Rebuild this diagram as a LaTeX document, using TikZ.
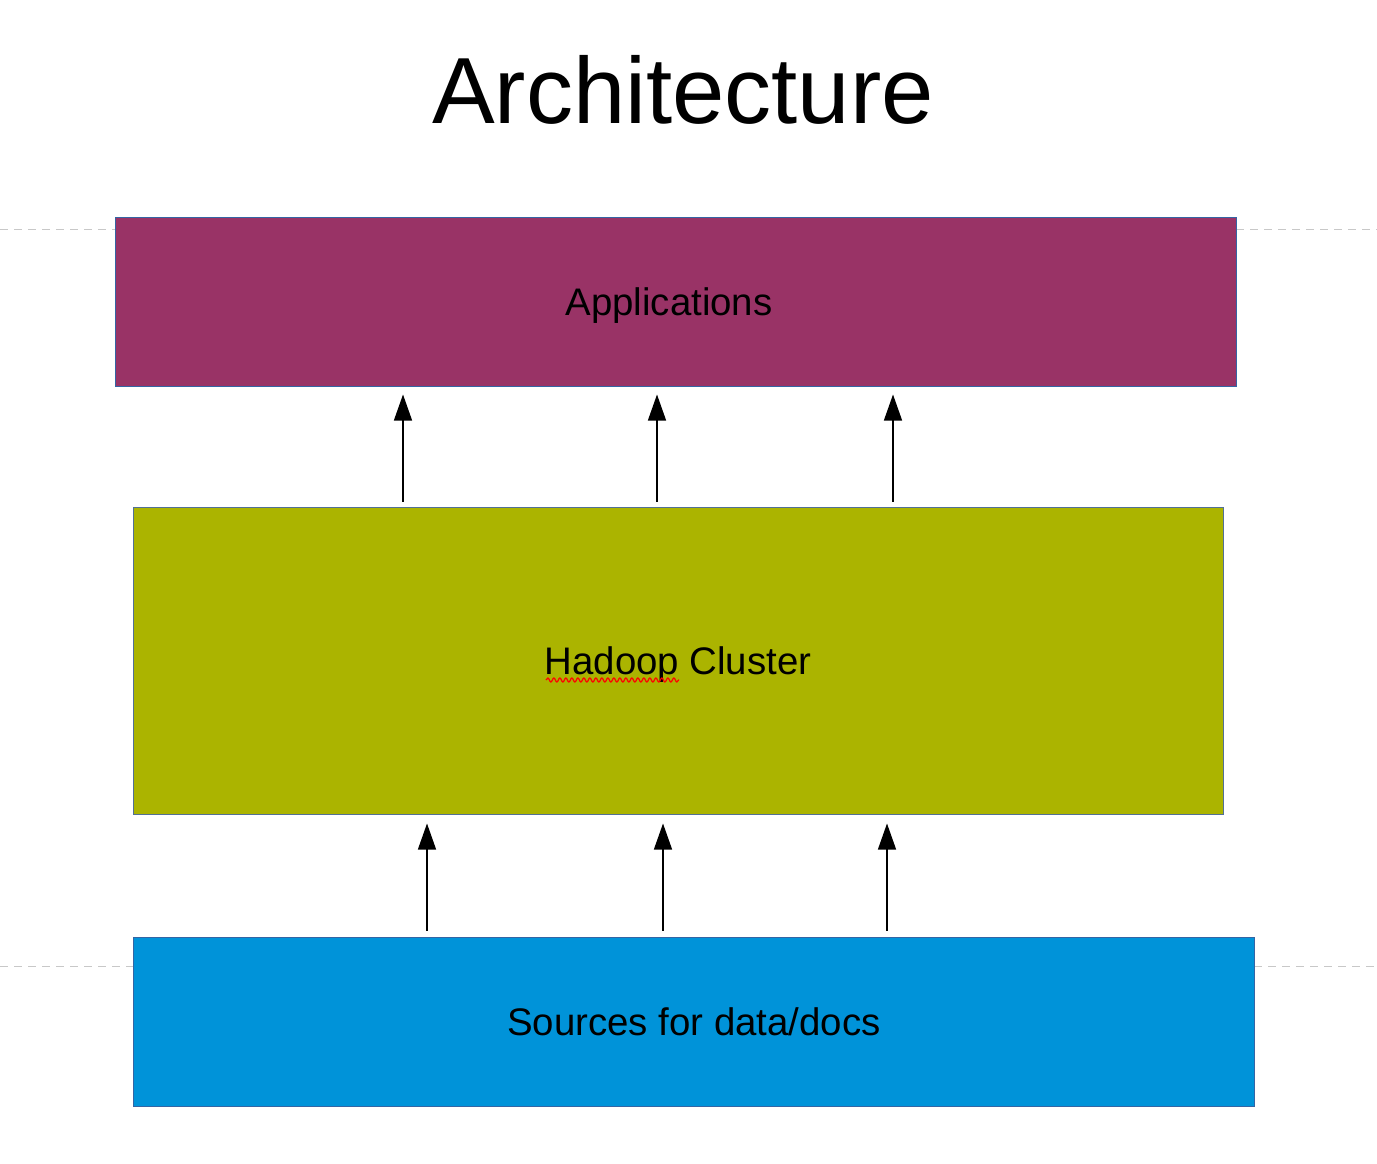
\documentclass[tikz,border=0pt]{standalone}
\usepackage{fontspec}
\setmainfont{Liberation Sans}
\usetikzlibrary{arrows.meta,decorations.pathmorphing}
\definecolor{appc}{HTML}{993366}
\definecolor{hadc}{HTML}{ABB400}
\definecolor{srcc}{HTML}{0093D9}
\definecolor{edgec}{HTML}{3465A4}
\definecolor{guidec}{HTML}{C8C8C8}
\tikzset{
  layer/.style={draw=edgec, line width=1pt, inner sep=0pt},
  lbl/.style={anchor=base, inner sep=0pt, font=\fontsize{38.4}{42}\selectfont},
  arr/.style={line width=1.3pt, -{Triangle[length=26pt,width=18pt]}},
  guide/.style={draw=guidec, line width=1pt, dash pattern=on 8pt off 6pt},
}
\begin{document}
\begin{tikzpicture}[x=1pt,y=-1pt]
\useasboundingbox (0,0) rectangle (1377,1163);
\node[font=\fontsize{94}{100}\selectfont] (title) at (683,90) {Architecture};
\draw[guide] (0,229) -- (115,229);
\draw[guide] (1236,229) -- (1377,229);
\draw[guide] (0,966) -- (133,966);
\draw[guide] (1254,966) -- (1377,966);
\node[layer, fill=appc, minimum width=1121pt, minimum height=169pt] (app) at (675.5,301.5) {};
\node[layer, fill=hadc, draw=edgec!60!gray, minimum width=1090pt, minimum height=307pt] (had) at (678,660.5) {};
\node[layer, fill=srcc, minimum width=1121pt, minimum height=169pt] (src) at (693.5,1021.5) {};
\node[lbl] (appl) at (669,315) {Applications};
\node[lbl] (hadl) at (678,674.5) {Hadoop Cluster};
\node[lbl] (srcl) at (694,1035) {Sources for data/docs};
\coordinate (a1) at (403,0);
\coordinate (a2) at (657,0);
\coordinate (a3) at (893,0);
\coordinate (b1) at (427,0);
\coordinate (b2) at (663,0);
\coordinate (b3) at (887,0);
\foreach \c in {a1,a2,a3}
  \draw[arr, shorten <=5pt, shorten >=8pt] (had.north -| \c) -- (app.south -| \c);
\foreach \c in {b1,b2,b3}
  \draw[arr, shorten <=6pt, shorten >=9pt] (src.north -| \c) -- (had.south -| \c);
\draw[red, line width=1.2pt, decorate, decoration={snake, segment length=6pt, amplitude=2pt}] (546,680) -- (679,680);
\end{tikzpicture}
\end{document}
